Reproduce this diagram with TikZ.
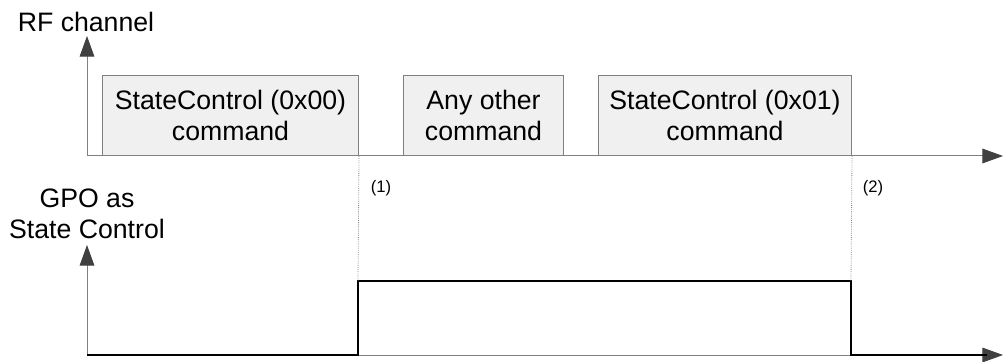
\documentclass[tikz,border=0pt]{standalone}
\usepackage{fontspec}
\setmainfont{Liberation Sans}
\usetikzlibrary{arrows.meta, positioning}
\definecolor{axisgray}{HTML}{808080}
\definecolor{tipgray}{HTML}{404040}
\definecolor{boxgray}{HTML}{F0F0F0}

\begin{document}
\begin{tikzpicture}[x=0.75pt, y=0.75pt,
    axis/.style={draw=axisgray, line width=0.75pt, -{Triangle[length=15.5pt, width=11pt, color=tipgray]}},
    cmd/.style={draw=axisgray, fill=boxgray, line width=0.75pt, anchor=south west,
        align=center, inner sep=0pt, minimum height=60pt, font=\fontsize{20}{23}\selectfont},
    lbl/.style={align=center, inner sep=0pt, font=\fontsize{20}{23}\selectfont},
    note/.style={inner sep=0pt, font=\fontsize{12.5}{14}\selectfont},
    signal/.style={draw=black, line width=1.1pt},
    guide/.style={draw=axisgray, line width=0.6pt, densely dotted}]
    \useasboundingbox (0,0) rectangle (1003,361);
    % axes
    \coordinate (o1) at (87,205);
    \coordinate (y1) at (87,325);
    \coordinate (x1) at (1003,205);
    \coordinate (o2) at (87,6);
    \coordinate (y2) at (87,116);
    \coordinate (x2) at (1003,6);
    \draw[axis] (o1) -- (y1);
    \draw[axis] (o1) -- (x1);
    \draw[axis] (o2) -- (y2);
    \draw[axis] (o2) -- (x2);
    % commands on the RF channel
    \node[cmd, minimum width=192pt] (cmd0) at (102,205) {StateControl (0x00)\\command};
    \node[cmd, minimum width=120pt] (cmdany) at (403,205) {Any other\\command};
    \node[cmd, minimum width=189.75pt] (cmd1) at (598,205) {StateControl (0x01)\\command};
    % GPO level
    \coordinate (up1) at (358,80);
    \coordinate (up2) at (851,80);
    \coordinate (end) at (987,6);
    \draw[signal] (o2) -| (up1) -- (up2) |- (end);
    \draw[guide] (cmd0.south east) -- (up1);
    \draw[guide] (cmd1.south east) -- (up2);
    % labels
    \node[lbl] (rf) at (86,339) {RF channel};
    \node[lbl] (gpo) at (87,147) {GPO as\\State Control};
    \node[note] (n1) at (381,173) {(1)};
    \node[note] (n2) at (873,173) {(2)};
\end{tikzpicture}
\end{document}
